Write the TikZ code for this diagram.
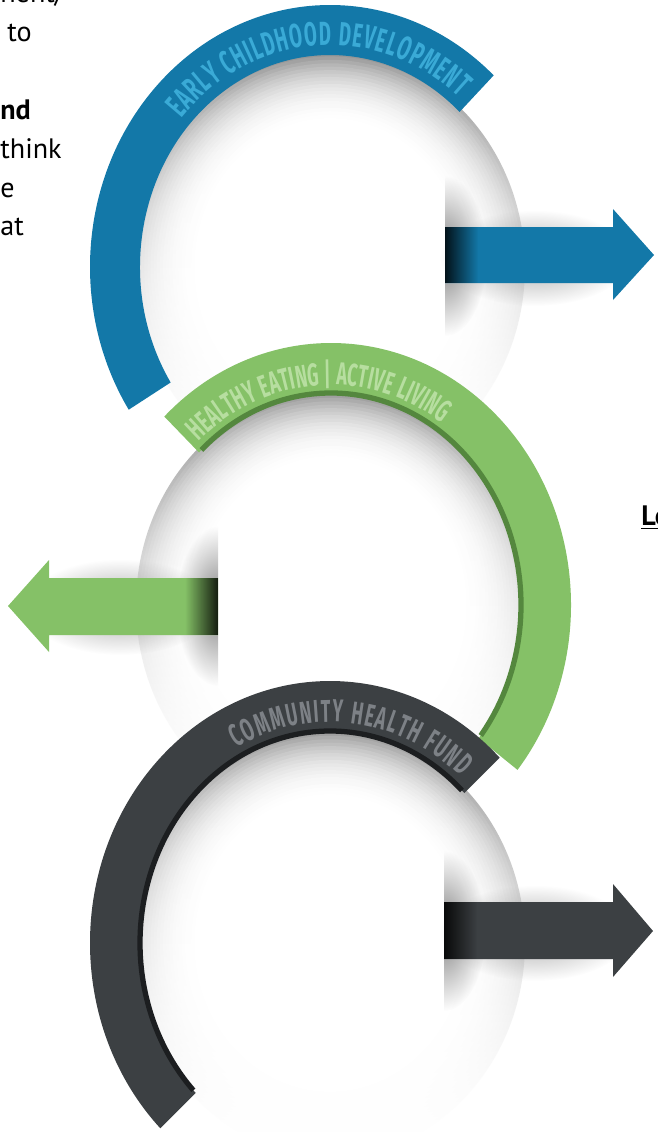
\documentclass[tikz,border=0pt]{standalone}
\usepackage{fontspec}
\setmainfont{PT Sans}
\newfontfamily\bandfont[FakeStretch=0.56]{Fira Sans}
\usetikzlibrary{calc,decorations.text,fadings}

\definecolor{ecdblue}{RGB}{19,120,168}
\definecolor{ecdtext}{RGB}{58,170,214}
\definecolor{healgreen}{RGB}{133,193,103}
\definecolor{healtext}{RGB}{183,222,160}
\definecolor{healedge}{RGB}{84,135,62}
\definecolor{chfdark}{RGB}{60,64,67}
\definecolor{chftext}{RGB}{125,129,134}
\definecolor{chfedge}{RGB}{28,30,32}

\tikzfading[name=fade right, left color=transparent!0, right color=transparent!100]
\tikzfading[name=fade left, left color=transparent!100, right color=transparent!0]
\tikzfading[name=halo, inner color=transparent!0, outer color=transparent!100]
\tikzfading[name=lowfade, top color=transparent!100, middle color=transparent!85, bottom color=transparent!0]

\tikzset{
  bandtext/.style={decorate, decoration={text along path, text format delimiters={[}{]}, text align=fit to path, text color=#1}},
  leftcopy/.style={anchor=base west, inner sep=0pt, font=\fontsize{16}{16}\selectfont},
}

\begin{document}
\begin{tikzpicture}[x=0.02cm, y=0.02cm]
    \useasboundingbox (0,0) rectangle (657,-1132);
    \coordinate (ecd) at (330,-267);
    \coordinate (heal) at (331,-605);
    \coordinate (chf) at (330,-943);

    \node[leftcopy] (l1) at (0,-3) {nent/};
    \node[leftcopy] (l2) at (7,-42) {to};
    \node[leftcopy, font=\bfseries\fontsize{16}{16}\selectfont] (l3) at (0,-119) {nd};
    \node[leftcopy] (l4) at (0,-158) {think};
    \node[leftcopy] (l5) at (0,-197) {e};
    \node[leftcopy] (l6) at (0,-235) {at};
    \node[leftcopy, font=\bfseries\fontsize{16}{16}\selectfont] (lo) at (641,-525) {\underline{Lo}};

    \foreach \c in {ecd,heal,chf} {
        \foreach \k in {0,...,19} {
            \pgfmathsetmacro\shadeamt{42*(1-\k/20)^2}
            \fill[black!\shadeamt] (\c) ellipse[x radius={195*(1-0.016*\k)}, y radius={214*(1-0.016*\k)}];
        }
        \fill[white] (\c) ellipse[x radius={195*0.68}, y radius={214*0.68}];
        \fill[white, path fading=lowfade] (\c) ellipse[x radius=197, y radius=216];
        \fill[white, path fading=lowfade] (\c) ellipse[x radius=197, y radius=216];
    }

    \begin{scope}
        \clip (445,-150) rectangle (560,-370);
        \fill[black!50, path fading=halo] (445,-256) ellipse[x radius=42, y radius=80];
    \end{scope}
    \fill[black!35, path fading=halo] (535,-258) ellipse[x radius=95, y radius=48];
    \fill[ecdblue] (445,-227) -- (613,-227) -- (613,-209) -- (654,-255) -- (613,-300) -- (613,-283) -- (445,-283) -- cycle;
    \fill[black, opacity=0.85, path fading=fade right] (445,-227) rectangle (478,-283);
    \fill[ecdblue] ($(ecd)+(47:240 and 262)$) arc[start angle=47, end angle=213, x radius=240, y radius=262]
        -- ($(ecd)+(213:190 and 212)$) arc[start angle=213, end angle=47, x radius=190, y radius=212] -- cycle;
    \path[bandtext=ecdtext, decoration={text={[\bandfont\bfseries\fontsize{19}{19}\selectfont]EARLY CHILDHOOD DEVELOPMENT}}]
        ($(ecd)+(138:200 and 222)$) arc[start angle=138, end angle=50, x radius=200, y radius=222];

    \begin{scope}
        \clip (218,-480) rectangle (100,-730);
        \fill[black!50, path fading=halo] (218,-606) ellipse[x radius=42, y radius=80];
    \end{scope}
    \fill[black!35, path fading=halo] (120,-607) ellipse[x radius=95, y radius=48];
    \fill[healgreen] (218,-578) -- (49,-578) -- (49,-560) -- (8,-606) -- (49,-652) -- (49,-635) -- (218,-635) -- cycle;
    \fill[black, opacity=0.85, path fading=fade left] (185,-578) rectangle (218,-635);
    \fill[healgreen] ($(heal)+(-39:240 and 262)$) arc[start angle=-39, end angle=134, x radius=240, y radius=262]
        -- ($(heal)+(134:190 and 212)$) arc[start angle=134, end angle=-39, x radius=190, y radius=212] -- cycle;
    \draw[healedge, line width=3] ($(heal)+(133:190 and 212)$) arc[start angle=133, end angle=-38, x radius=190, y radius=212];
    \path[bandtext=healtext, decoration={text={[\bandfont\bfseries\fontsize{18}{18}\selectfont]HEALTHY EATING | ACTIVE LIVING}}]
        ($(heal)+(132:198 and 220)$) arc[start angle=132, end angle=56, x radius=198, y radius=220];

    \begin{scope}
        \clip (444,-820) rectangle (560,-1050);
        \fill[black!50, path fading=halo] (444,-931) ellipse[x radius=42, y radius=80];
    \end{scope}
    \fill[black!35, path fading=halo] (535,-933) ellipse[x radius=95, y radius=48];
    \fill[chfdark] (444,-902) -- (613,-902) -- (613,-884) -- (653,-931) -- (613,-977) -- (613,-959) -- (444,-959) -- cycle;
    \fill[black, opacity=0.85, path fading=fade right] (444,-902) rectangle (477,-959);
    \fill[chfdark] ($(chf)+(45:240 and 262)$) arc[start angle=45, end angle=225, x radius=240, y radius=262]
        -- ($(chf)+(225:190 and 212)$) arc[start angle=225, end angle=45, x radius=190, y radius=212] -- cycle;
    \draw[chfedge, line width=3] ($(chf)+(46:190 and 212)$) arc[start angle=46, end angle=224, x radius=190, y radius=212];
    \path[bandtext=chftext, decoration={text={[\bandfont\bfseries\fontsize{18}{18}\selectfont]COMMUNITY HEALTH FUND}}]
        ($(chf)+(118:199 and 221)$) arc[start angle=118, end angle=49, x radius=199, y radius=221];
\end{tikzpicture}
\end{document}
